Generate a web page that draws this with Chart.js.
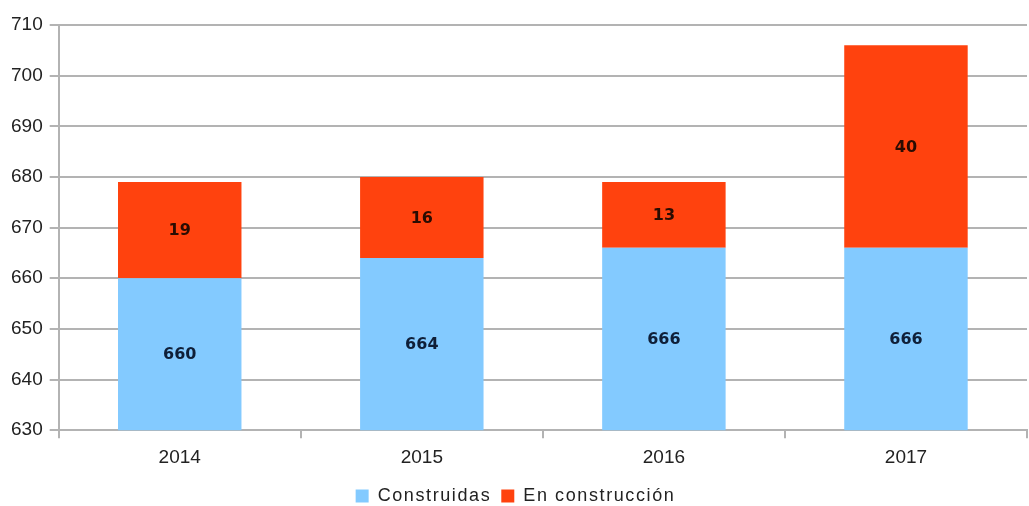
<!DOCTYPE html>
<html>
<head>
<meta charset="utf-8">
<script src="https://cdn.jsdelivr.net/npm/chart.js@4.4.1/dist/chart.umd.min.js"></script>
<style>
  html, body { margin: 0; padding: 0; background: #fff; }
  #chart { display: block; }
</style>
</head>
<body>
<canvas id="chart" width="1029" height="506"></canvas>
<script>
    // chart data
    const years = ['2014', '2015', '2016', '2017'];
    const construidas = [660, 664, 666, 666];
    const enConstruccion = [19, 16, 13, 40];
    const yTicks = [630, 640, 650, 660, 670, 680, 690, 700, 710];

    // draws the value in the middle of each visible bar segment
    const barLabels = {
        id: 'barLabels',
        afterDatasetsDraw(chart) {
            const ctx = chart.ctx;
            const area = chart.chartArea;
            ctx.save();
            ctx.font = 'bold 16px "DejaVu Sans"';
            ctx.textAlign = 'center';
            ctx.textBaseline = 'middle';
            chart.data.datasets.forEach((ds, i) => {
                const meta = chart.getDatasetMeta(i);
                meta.data.forEach((bar, j) => {
                    const top = Math.max(bar.y, area.top);
                    const bottom = Math.min(bar.base, area.bottom);
                    ctx.fillStyle = i === 0 ? '#0f1f38' : '#2a0c02';
                    ctx.fillText(ds.data[j], bar.x, (top + bottom) / 2 + 1);
                });
            });
            ctx.restore();
        }
    };

    // wider letter spacing for the legend text only
    const legendSpacing = {
        id: 'legendSpacing',
        afterInit(chart) {
            const legend = chart.legend;
            if (!legend) return;
            const wrap = (name) => {
                const orig = legend[name].bind(legend);
                legend[name] = function (...args) {
                    const c = chart.ctx;
                    const prev = c.letterSpacing;
                    c.letterSpacing = '1.6px';
                    const r = orig(...args);
                    c.letterSpacing = prev || '0px';
                    return r;
                };
            };
            wrap('fit');
            wrap('draw');
        }
    };

    const ctx = document.getElementById('chart').getContext('2d');
    new Chart(ctx, {
        type: 'bar',
        data: {
            labels: years,
            datasets: [
                {
                    label: 'Construidas',
                    data: construidas,
                    backgroundColor: '#83caff',
                    borderWidth: 0
                },
                {
                    label: 'En construcción',
                    data: enConstruccion,
                    backgroundColor: '#ff420e',
                    borderWidth: 0
                }
            ]
        },
        options: {
            responsive: false,
            animation: false,
            layout: { padding: { top: 25, right: 2, left: 4, bottom: -9 } },
            datasets: { bar: { categoryPercentage: 0.51, barPercentage: 1 } },
            plugins: {
                legend: {
                    position: 'bottom',
                    labels: {
                        boxWidth: 13,
                        boxHeight: 13,
                        padding: 10,
                        color: '#222',
                        font: { family: '"Liberation Sans"', size: 18 }
                    }
                },
                tooltip: { enabled: false }
            },
            scales: {
                x: {
                    stacked: true,
                    grid: {
                        offset: true,
                        drawOnChartArea: false,
                        drawTicks: true,
                        tickLength: 8,
                        color: '#b3b3b3',
                        lineWidth: 2
                    },
                    border: { color: '#b3b3b3', width: 2 },
                    ticks: {
                        color: '#222',
                        padding: 8,
                        font: { family: '"Liberation Sans"', size: 19 }
                    }
                },
                y: {
                    stacked: true,
                    min: 630,
                    max: 710,
                    afterBuildTicks(axis) {
                        axis.ticks = yTicks.map(v => ({ value: v }));
                    },
                    grid: {
                        color: '#b3b3b3',
                        lineWidth: 2,
                        tickLength: 9
                    },
                    border: { color: '#b3b3b3', width: 2 },
                    ticks: {
                        color: '#222',
                        padding: 7,
                        font: { family: '"Liberation Sans"', size: 19 }
                    }
                }
            }
        },
        plugins: [barLabels, legendSpacing]
    });
</script>
</body>
</html>
